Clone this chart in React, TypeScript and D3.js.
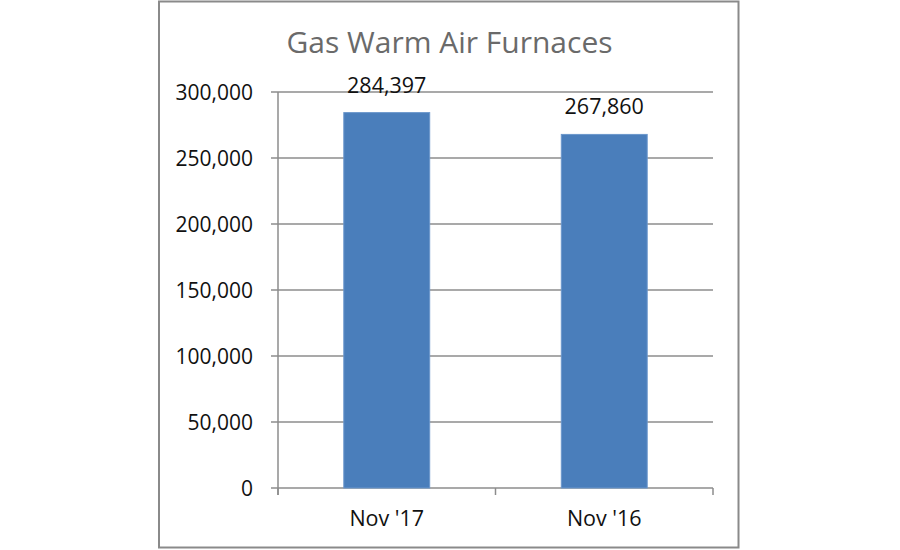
import React, { useEffect, useRef } from "react";
import * as d3 from "d3";

const title = "Gas Warm Air Furnaces";
const categories = ["Nov '17", "Nov '16"];
const values = [284397, 267860];
const yTicks = [0, 50000, 100000, 150000, 200000, 250000, 300000];

export default function App() {
  const ref = useRef<SVGSVGElement | null>(null);

  useEffect(() => {
    const svg = d3.select(ref.current);
    svg.selectAll("*").remove();
    const W = 900, H = 550;
    const left = 278, right = 713, top = 92, bottom = 488;
    const font = "'Open Sans', sans-serif";

    svg.append("rect").attr("width", W).attr("height", H).attr("fill", "#fff");
    svg.append("rect")
      .attr("x", 159).attr("y", 1.5).attr("width", 579.5).attr("height", 546)
      .attr("fill", "#fff").attr("stroke", "#8a8a8a").attr("stroke-width", 2);

    const x = d3.scaleBand<string>().domain(categories).range([left, right]).padding(0);
    const y = d3.scaleLinear().domain([0, 300000]).range([bottom, top]);
    const fmt = d3.format(",");

    // gridlines
    svg.append("g").selectAll("line").data(yTicks).join("line")
      .attr("x1", left - 7).attr("x2", right)
      .attr("y1", (d) => y(d)).attr("y2", (d) => y(d))
      .attr("stroke", "#8c8c8c").attr("stroke-width", 1.5);

    // y axis line
    svg.append("line").attr("x1", left).attr("x2", left).attr("y1", top).attr("y2", bottom + 7)
      .attr("stroke", "#8c8c8c").attr("stroke-width", 1.5);

    // x tick marks
    const xTickPos = [left, ...categories.map((c) => (x(c) as number) + x.bandwidth())];
    svg.append("g").selectAll("line").data(xTickPos).join("line")
      .attr("x1", (d) => d).attr("x2", (d) => d).attr("y1", bottom).attr("y2", bottom + 7)
      .attr("stroke", "#8c8c8c").attr("stroke-width", 1.5);

    // y tick labels
    svg.append("g").selectAll("text").data(yTicks).join("text")
      .attr("x", 253).attr("y", (d) => y(d)).attr("dy", "0.36em")
      .attr("text-anchor", "end").attr("font-family", font).attr("font-size", 21)
      .attr("fill", "#111").text((d) => fmt(d));

    // bars
    const barW = x.bandwidth() * 0.395;
    svg.append("g").selectAll("rect").data(values).join("rect")
      .attr("x", (_, i) => (x(categories[i]) as number) + x.bandwidth() / 2 - barW / 2)
      .attr("y", (d) => y(d)).attr("width", barW).attr("height", (d) => bottom - y(d))
      .attr("fill", "#4a7ebb").attr("stroke", "#6b97cc").attr("stroke-width", 1);

    // value labels
    svg.append("g").selectAll("text").data(values).join("text")
      .attr("x", (_, i) => (x(categories[i]) as number) + x.bandwidth() / 2)
      .attr("y", (d) => y(d) - 20)
      .attr("text-anchor", "middle").attr("font-family", font).attr("font-size", 21.5)
      .attr("fill", "#111").text((d) => fmt(d));

    // category labels
    svg.append("g").selectAll("text").data(categories).join("text")
      .attr("x", (d) => (x(d) as number) + x.bandwidth() / 2).attr("y", 526)
      .attr("text-anchor", "middle").attr("font-family", font).attr("font-size", 21.5)
      .attr("fill", "#111").text((d) => d);

    // title
    svg.append("text").attr("x", 449.5).attr("y", 53).attr("text-anchor", "middle")
      .attr("font-family", font).attr("font-size", 30).attr("fill", "#6a6a6a").text(title);
  }, []);

  return (
    <svg ref={ref} width={900} height={550}
      style={{ position: "absolute", left: 0, top: 0, display: "block" }} />
  );
}
